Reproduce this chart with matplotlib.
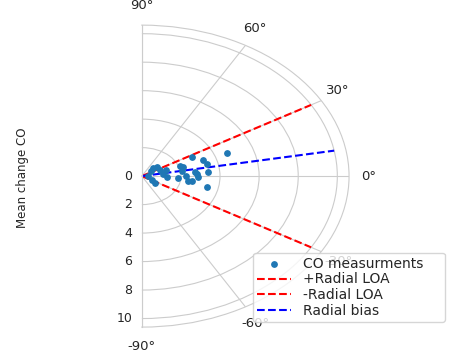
import numpy as np
from matplotlib import pyplot as plt
import seaborn as sns

# CO measurements in polar form (angle in degrees, radius)
theta_deg = [20.8, 27.5, 19.6, 14.1, 4.7, 20.2, 16.6, 9.6, 6.3, 2.4, -1.0, 0.9, -4.9,
             -7.6, -7.3, -12.7, -4.0, 18.9, 40.9, 44.0, 38.0, 24.5, -28.0, -34.0, 0.0, 7.3]
radius = [4.64, 2.88, 3.34, 3.44, 3.41, 2.09, 2.20, 2.09, 2.74, 2.81, 2.89, 2.24, 1.88,
          2.40, 2.59, 3.40, 1.28, 1.30, 1.02, 0.81, 0.57, 1.01, 0.60, 0.82, 0.30, 1.10]

loa_upper = 30.0   # degrees
loa_lower = -30.0
bias = 10.3
line_r = [0, 10]

sns.set_style("whitegrid")
plt.rcParams['font.family'] = ['DejaVu Sans']

fig = plt.figure(figsize=(4.51, 3.54), dpi=100)
# the half wedge sits in the middle half of the axes box, stretched (aspect auto)
ax = fig.add_axes([0.0847, 0.076, 0.919, 0.853], projection='polar')

ax.scatter(np.radians(theta_deg), radius, s=15, color='#1f77b4', label='CO measurments', zorder=3)
ax.plot(np.radians([loa_upper, loa_upper]), line_r, 'r--', lw=1.5, label='+Radial LOA')
ax.plot(np.radians([loa_lower, loa_lower]), line_r, 'r--', lw=1.5, label='-Radial LOA')
ax.plot(np.radians([bias, bias]), line_r, 'b--', lw=1.5, label='Radial bias')

ax.set_thetamin(-90)
ax.set_thetamax(90)
ax.set_thetagrids(range(-90, 91, 30))
ax.set_ylim(0, 10.6)
ax.set_aspect('auto')
ax.tick_params(axis='x', labelsize=9.5)
ax.tick_params(axis='y', labelsize=9)

ax.set_ylabel('Mean change CO', fontsize=8.5)
ax.yaxis.set_label_coords(-0.023, 0.495)

# legend box spans the lower right corner of the figure, as in the reference
ax.legend(loc='lower left', bbox_to_anchor=(0.561, 0.0904, 0.4257, 0.203),
          bbox_transform=fig.transFigure, mode='expand',
          borderaxespad=0, fontsize=10, handlelength=2.4, handletextpad=0.9,
          labelspacing=0.12, borderpad=0.3, frameon=True)

plt.savefig('out.png', dpi=100)
